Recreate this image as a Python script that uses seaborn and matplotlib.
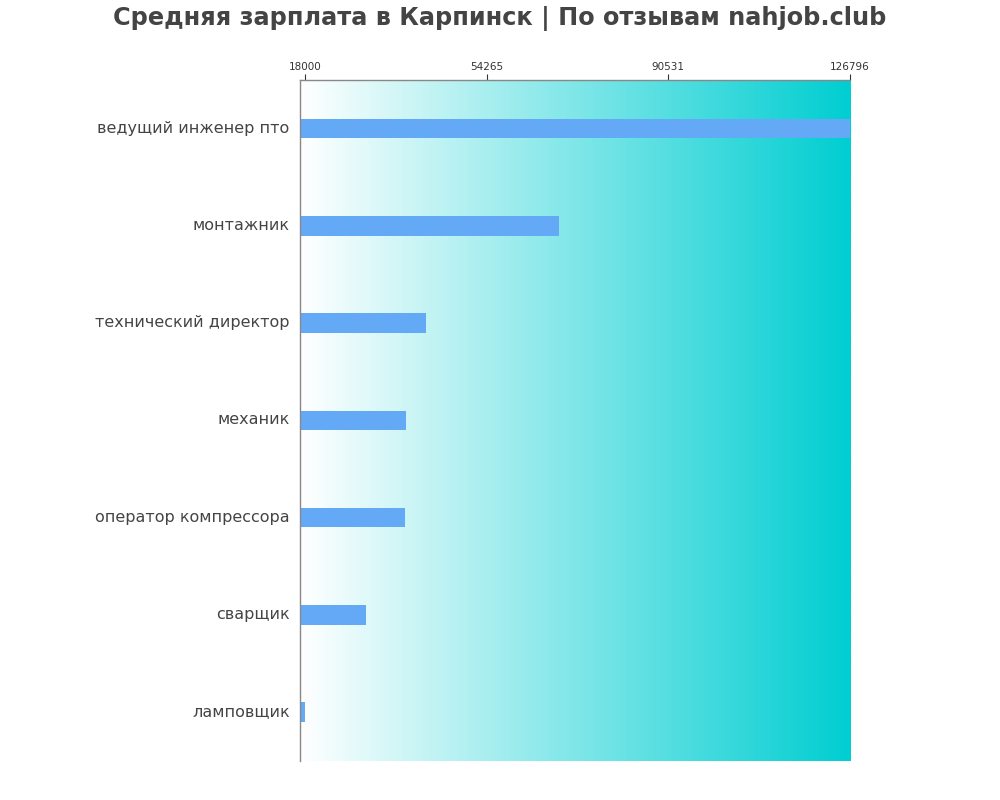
import numpy as np
import pandas as pd
import matplotlib
matplotlib.use("Agg")
import matplotlib.pyplot as plt
import matplotlib.transforms as mtransforms
from matplotlib.colors import LinearSegmentedColormap
import seaborn as sns

# data
jobs = ["ведущий инженер пто", "монтажник", "технический директор", "механик",
        "оператор компрессора", "сварщик", "ламповщик"]
salaries = [126796, 68700, 42150, 38160, 37960, 30200, 18000]
tick_values = [18000, 54265, 90531, 126796]

df = pd.DataFrame({"job": jobs, "salary": salaries})

sns.set_style("white")
plt.rcParams["font.family"] = ["DejaVu Sans"]

fig = plt.figure(figsize=(10, 8), dpi=100)
ax = fig.add_axes([0.30, 0.049, 0.55, 0.851])

x_left, x_right = 17000, 126796

# gradient background
cmap = LinearSegmentedColormap.from_list("bg", ["#ffffff", "#00ced1"])
grad = np.linspace(0, 1, 256).reshape(1, -1)
ax.imshow(grad, cmap=cmap, aspect="auto", extent=[x_left, x_right, 6.5, -0.5], zorder=0)

sns.barplot(data=df, x="salary", y="job", orient="h", color="#64a9f5",
            width=0.2, saturation=1, linewidth=0, ax=ax, zorder=2)

ax.set_xlim(x_left, x_right)
ax.set_ylim(6.5, -0.5)
ax.set_xticks(tick_values)
ax.set_xticklabels([str(v) for v in tick_values])
ax.xaxis.tick_top()
ax.tick_params(axis="x", labelsize=7.5, colors="#333333", length=4, width=0.8,
               direction="out", pad=2)
ax.tick_params(axis="y", labelsize=11.5, labelcolor="#444444", length=0, pad=11)
# nudge the job labels a little up and right, as in the reference
shift = mtransforms.ScaledTranslation(5 / 100, 2 / 100, fig.dpi_scale_trans)
for lbl in ax.get_yticklabels():
    lbl.set_transform(lbl.get_transform() + shift)
ax.set_xlabel("")
ax.set_ylabel("")

for side in ["right", "bottom"]:
    ax.spines[side].set_visible(False)
for side in ["left", "top"]:
    ax.spines[side].set_color("#888888")
    ax.spines[side].set_linewidth(1)

fig.suptitle("Средняя зарплата в Карпинск | По отзывам nahjob.club", fontsize=17.3,
             fontweight="bold", color="#444444", x=0.5, y=0.993)

fig.savefig("out.png", dpi=100)
